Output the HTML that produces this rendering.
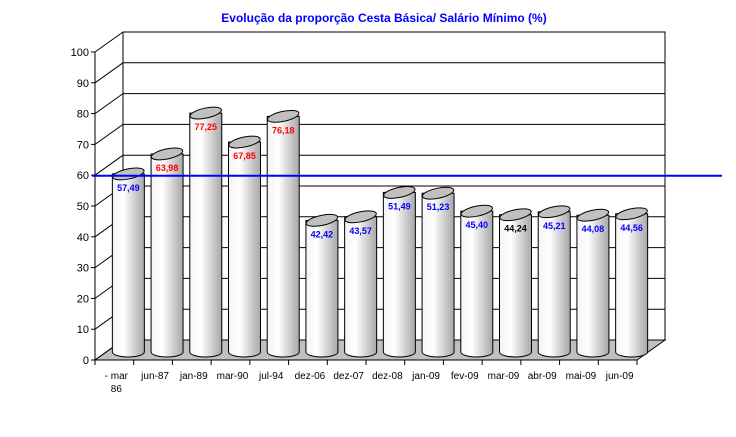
<!DOCTYPE html>
<html><head><meta charset="utf-8"><style>
html,body{margin:0;padding:0;background:#fff}
svg{display:block;font-family:"Liberation Sans",Arial,sans-serif}
</style></head><body>
<svg id="chart" width="736" height="437" viewBox="0 0 736 437" xmlns="http://www.w3.org/2000/svg">
<defs>
<linearGradient id="cyl" x1="0" x2="1" y1="0" y2="0">
<stop offset="0" stop-color="#f4f4f4"/><stop offset="0.35" stop-color="#ffffff"/><stop offset="0.75" stop-color="#c8c8c8"/><stop offset="1" stop-color="#a8a8a8"/>
</linearGradient>
</defs>
<text x="384" y="22" text-anchor="middle" font-size="12" font-weight="bold" fill="#0000ff">Evolução da proporção Cesta Básica/ Salário Mínimo (%)</text>
<g id="grid"></g><g id="bars"></g><g id="axes"></g>
</svg>
<script>
const categories=["- mar|86","jun-87","jan-89","mar-90","jul-94","dez-06","dez-07","dez-08","jan-09","fev-09","mar-09","abr-09","mai-09","jun-09"];
const values=[57.49,63.98,77.25,67.85,76.18,42.42,43.57,51.49,51.23,45.40,44.24,45.21,44.08,44.56];
const valueLabels=["57,49","63,98","77,25","67,85","76,18","42,42","43,57","51,49","51,23","45,40","44,24","45,21","44,08","44,56"];
const labelColors=["#0000ff","#ff0000","#ff0000","#ff0000","#ff0000","#0000ff","#0000ff","#0000ff","#0000ff","#0000ff","#000000","#0000ff","#0000ff","#0000ff"];
const yTicks=[0,10,20,30,40,50,60,70,80,90,100];
const refValue=59.5;
const NS="http://www.w3.org/2000/svg";
const X0=95,X1=637,Y0=360,K=3.08,DX=28,DY=-20;
const step=(X1-X0)/categories.length;
const yF=v=>Y0-v*K;
function mk(t,a,p){const e=document.createElementNS(NS,t);for(const k in a)e.setAttribute(k,a[k]);p.appendChild(e);return e;}
const grid=document.getElementById('grid'),bars=document.getElementById('bars'),axes=document.getElementById('axes');
let floor=mk('polygon',{points:`${X0},${Y0} ${X1},${Y0} ${X1+DX},${Y0+DY} ${X0+DX},${Y0+DY}`,fill:'#c0c0c0',stroke:'#000','stroke-width':1},grid);

let wall=mk('rect',{x:X0+DX,y:yF(100)+DY,width:X1-X0,height:100*K,fill:'#fff',stroke:'#000','stroke-width':1},grid);

yTicks.forEach(v=>{
 const y=yF(v);
 if(v>0){let g=mk('line',{x1:X0+DX,x2:X1+DX,y1:y+DY,y2:y+DY,stroke:'#000','stroke-width':1},grid);
 }
 let d=mk('line',{x1:X0,y1:y,x2:X0+DX,y2:y+DY,stroke:'#000','stroke-width':1},grid);
 
 let t=mk('line',{x1:X0-4,x2:X0,y1:y,y2:y,stroke:'#000'},axes);
 
 let l=mk('text',{x:X0-6,y:y+4,'text-anchor':'end','font-size':11,fill:'#000'},axes);l.textContent=v;
 
});
let ya=mk('line',{x1:X0,x2:X0,y1:yF(100),y2:Y0,stroke:'#000'},axes);

let yb=mk('line',{x1:X0+DX,x2:X0+DX,y1:yF(100)+DY,y2:Y0+DY,stroke:'#000'},grid);

let xa=mk('line',{x1:X0,x2:X1,y1:Y0,y2:Y0,stroke:'#000'},axes);

const R=16,E=5;
categories.forEach((c,i)=>{
 const cx=X0+step*(i+0.5)+DX/2, base=Y0-8, top=Y0+DY/2-values[i]*K+1;
 const g=mk('g',{},bars);
 
 
 mk('path',{d:`M${cx-R},${top} L${cx-R},${base} A${R},${E} 0 0 0 ${cx+R},${base} L${cx+R},${top} Z`,fill:'url(#cyl)',stroke:'#000','stroke-width':1},g);
 mk('ellipse',{cx:cx,cy:top,rx:R,ry:E,fill:'#c0c0c0',stroke:'#000','stroke-width':1,transform:`rotate(-12 ${cx} ${top})`},g);
 const vl=mk('text',{x:cx,y:top+17,'text-anchor':'middle','font-size':9,'font-weight':'bold',fill:labelColors[i]},g);
 vl.textContent=valueLabels[i];
 
 const tx=X0+step*(i+1);
 let tk=mk('line',{x1:tx,x2:tx,y1:Y0,y2:Y0+5,stroke:'#000'},axes);
 
 const parts=c.split('|');
 parts.forEach((p,j)=>{const t=mk('text',{x:X0+step*(i+0.5)+2,y:Y0+19+j*13,'text-anchor':'middle','font-size':10,fill:'#000'},axes);t.textContent=p;
 });
});
let t0=mk('line',{x1:X0,x2:X0,y1:Y0,y2:Y0+5,stroke:'#000'},axes);

let ref=mk('line',{x1:92,x2:722,y1:yF(refValue)-1,y2:yF(refValue)-1,stroke:'#0000ff','stroke-width':2},axes);

</script>
</body></html>
